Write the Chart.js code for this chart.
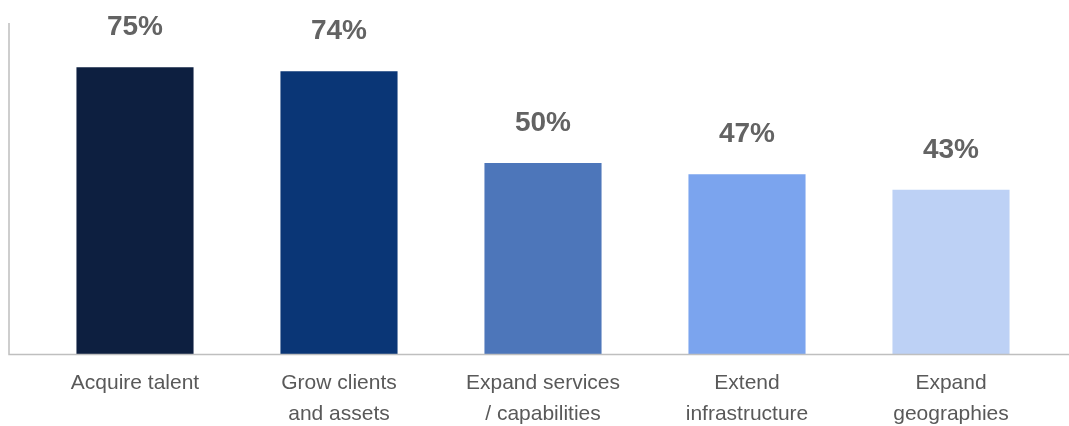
<!DOCTYPE html>
<html>
<head>
<meta charset="utf-8">
<script src="https://cdn.jsdelivr.net/npm/chart.js@4/dist/chart.umd.min.js"></script>
<style>
	html, body { margin: 0; padding: 0; background: #fff; }
	#wrap { width: 1069px; height: 426px; }
</style>
</head>
<body>
<div id="wrap"><canvas id="myChart"></canvas></div>
<script>
// categories and values
const labels = [
	'Acquire talent',
	['Grow clients', 'and assets'],
	['Expand services', '/ capabilities'],
	['Extend', 'infrastructure'],
	['Expand', 'geographies']
]
const values = [75, 74, 50, 47, 43]
const barColors = ['#0D1F40', '#0A3676', '#4D76BA', '#7BA4EE', '#BDD1F5']

const font = "'Liberation Sans', Arial, sans-serif"

// draws the axis lines and the percent labels above each bar
const decorations = {
	id: 'decorations',
	afterDatasetsDraw: chart => {
		const ctx = chart.ctx
		const { left, right, bottom, top } = chart.chartArea
		ctx.save()
		ctx.strokeStyle = '#BFBFBF'
		ctx.lineWidth = 1.5
		ctx.beginPath()
		ctx.moveTo(left - 24, top + 13)
		ctx.lineTo(left - 24, bottom + 0.5)
		ctx.lineTo(right + 16, bottom + 0.5)
		ctx.stroke()

		ctx.fillStyle = '#636363'
		ctx.font = 'bold 28px ' + font
		ctx.textAlign = 'center'
		ctx.textBaseline = 'alphabetic'
		chart.getDatasetMeta(0).data.forEach((bar, i) => {
			ctx.fillText(values[i] + '%', bar.x, bar.y - 32)
		})
		ctx.restore()
	}
}

const chart = document.querySelector('#myChart').getContext('2d')

const myChart = new Chart(chart, {
	type: 'bar',
	data: {
		labels: labels,
		datasets: [
			{
				data: values,
				backgroundColor: barColors,
				borderWidth: 0,
				categoryPercentage: 1,
				barPercentage: 0.574
			}
		]
	},
	options: {
		responsive: true,
		maintainAspectRatio: false,
		animation: false,
		layout: {
			padding: { top: 10, left: 33, right: 16, bottom: 2 }
		},
		plugins: {
			legend: { display: false },
			tooltip: { enabled: false }
		},
		scales: {
			y: {
				display: false,
				min: 0,
				max: 90
			},
			x: {
				afterFit: scale => {
					scale.height = 70
				},
				grid: { display: false },
				border: { display: false },
				ticks: {
					color: '#595959',
					padding: 6,
					maxRotation: 0,
					autoSkip: false,
					font: { family: font, size: 21, lineHeight: 1.48 }
				}
			}
		}
	},
	plugins: [decorations]
})
</script>
</body>
</html>
